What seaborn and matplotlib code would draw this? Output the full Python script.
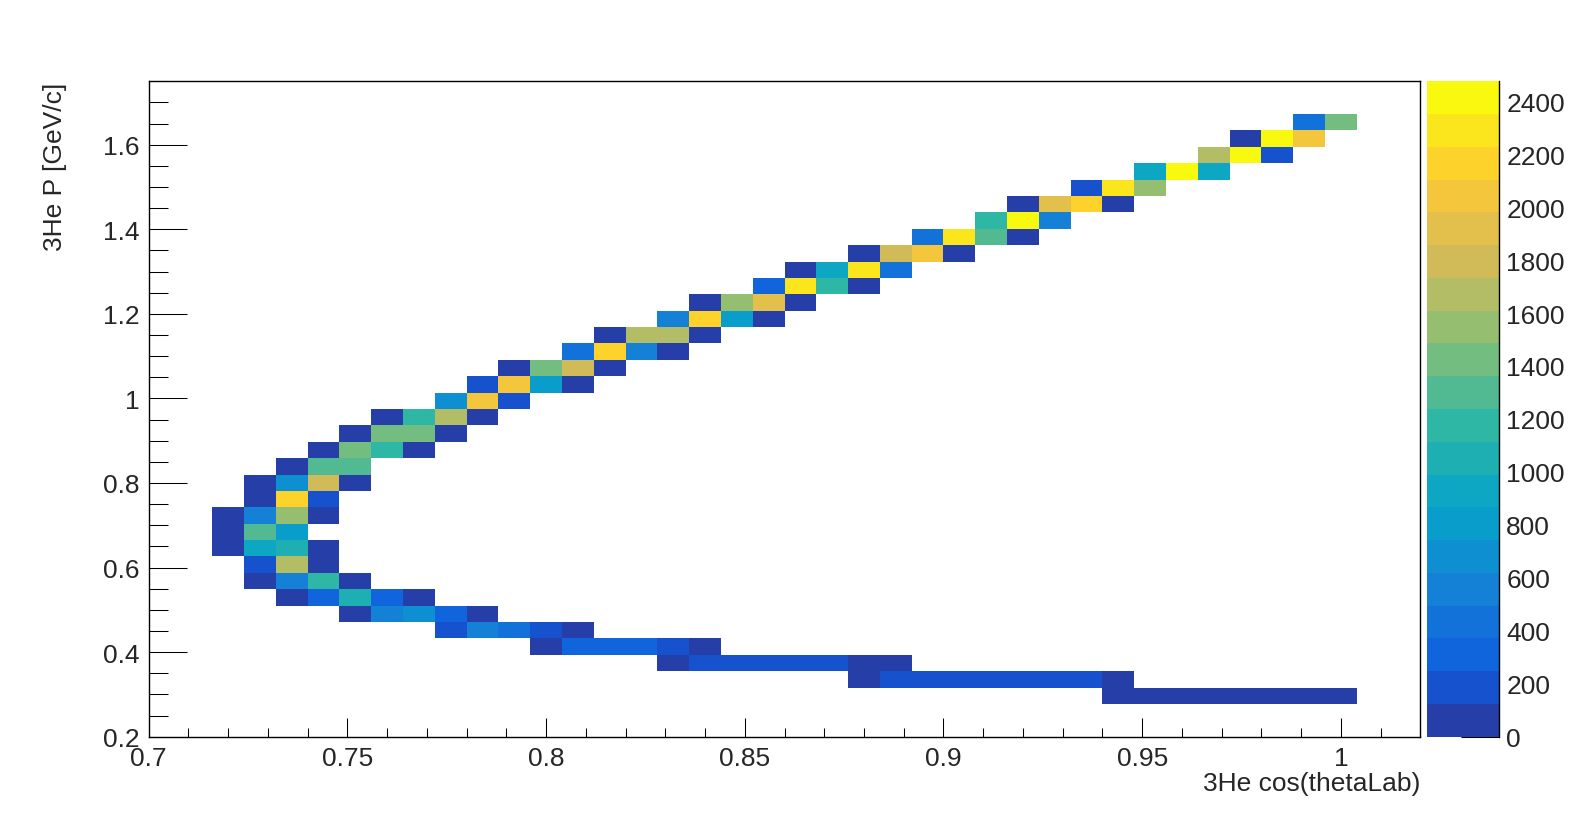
import numpy as np
import pandas as pd
import matplotlib
matplotlib.use("Agg")
import matplotlib.pyplot as plt
from matplotlib.colors import ListedColormap
from matplotlib.ticker import MultipleLocator, FuncFormatter
import seaborn as sns

# binning of the 2D histogram (40 x 40 bins)
cos_lo, cos_hi, n_cos = 0.70, 1.02, 40
p_lo, p_hi, n_p = 0.20, 1.75, 40
zmax = 2475

# filled bins, one entry per P row: row index, first cos bin, bin contents
row_index = [2, 3, 4, 5, 6, 7, 8, 9, 10, 11, 12, 13, 14, 15, 16, 17, 18, 19,
             20, 21, 22, 23, 24, 25, 26, 27, 28, 29, 30, 31, 32, 33, 34, 35, 36, 37]
first_bin = [30, 22, 16, 12, 9, 6, 4, 3, 3, 2, 2, 2, 3, 3, 4, 5, 6, 7,
             9, 10, 11, 13, 14, 16, 17, 19, 20, 22, 24, 26, 27, 29, 31, 33, 34, 36]
row_counts = [
    [60, 60, 60, 60, 60, 60, 60, 60],
    [60, 190, 190, 190, 190, 190, 190, 190, 60],
    [60, 190, 190, 190, 190, 190, 60, 60],
    [60, 310, 310, 310, 190, 60],
    [190, 560, 430, 190, 60],
    [60, 560, 680, 310, 60],
    [60, 310, 1050, 310, 60],
    [60, 560, 1180, 60],
    [190, 1670, 60],
    [60, 930, 1050, 60],
    [60, 1300, 800],
    [60, 560, 1550, 60],
    [60, 2170, 190],
    [60, 680, 1790, 60],
    [60, 1300, 1300],
    [60, 1420, 1180, 60],
    [60, 1420, 1420, 60],
    [60, 1180, 1670, 60],
    [680, 2040, 190],
    [190, 2040, 800, 60],
    [60, 1420, 1790, 60],
    [430, 2170, 560, 60],
    [60, 1670, 1670, 60],
    [560, 2170, 800, 60],
    [60, 1550, 1920, 60],
    [310, 2290, 1180, 60],
    [60, 930, 2290, 430],
    [60, 1790, 2040, 60],
    [430, 2290, 1300, 60],
    [1180, 2420, 560],
    [60, 1920, 2170, 60],
    [190, 2290, 1550],
    [930, 2420, 930],
    [1670, 2420, 190],
    [60, 2420, 2040],
    [430, 1420],
]

cos_w = (cos_hi - cos_lo) / n_cos
p_w = (p_hi - p_lo) / n_p
recs = []
for k, j0, counts in zip(row_index, first_bin, row_counts):
    for i, c in enumerate(counts):
        recs.append((cos_lo + (j0 + i + 0.5) * cos_w, p_lo + (k + 0.5) * p_w, c))
df = pd.DataFrame(recs, columns=["cos", "p", "n"])

# ROOT kBird palette, 255 colours, 20 contour levels
stops = [0.0, 0.125, 0.25, 0.375, 0.5, 0.625, 0.75, 0.875, 1.0]
red = [0.2082, 0.0592, 0.0780, 0.0232, 0.1802, 0.5301, 0.8186, 0.9956, 0.9764]
green = [0.1664, 0.3599, 0.5041, 0.6419, 0.7178, 0.7492, 0.7328, 0.7862, 0.9832]
blue = [0.5293, 0.8684, 0.8385, 0.7914, 0.6425, 0.4662, 0.3499, 0.1968, 0.0539]
grad = []
for g in range(1, len(stops)):
    n = int(np.floor(255 * stops[g]) - np.floor(255 * stops[g - 1]))
    for c in range(n):
        grad.append((red[g - 1] + c * (red[g] - red[g - 1]) / n,
                     green[g - 1] + c * (green[g] - green[g - 1]) / n,
                     blue[g - 1] + c * (blue[g] - blue[g - 1]) / n))
n_levels = 20
cmap = ListedColormap([grad[int((i + 0.99) * len(grad) / n_levels)] for i in range(n_levels)])

sns.set_style("ticks")
plt.rcParams["font.family"] = ["Liberation Sans", "DejaVu Sans"]

W, H = 1589, 820
L, R, T, B = 148.7, 1420.3, 82.3, 737.7
fig = plt.figure(figsize=(W / 100, H / 100), dpi=100)
ax = fig.add_axes([L / W, 1 - B / H, (R - L) / W, (B - T) / H])
cax = fig.add_axes([1427 / W, 1 - B / H, (1499.3 - 1427) / W, (B - T) / H])

sns.histplot(data=df, x="cos", y="p", weights="n", bins=(n_cos, n_p),
             binrange=((cos_lo, cos_hi), (p_lo, p_hi)), cmap=cmap, vmax=zmax,
             cbar=True, cbar_ax=cax, ax=ax)

ax.set_xlim(cos_lo, cos_hi)
ax.set_ylim(p_lo, p_hi)
ax.xaxis.set_major_locator(MultipleLocator(0.05))
ax.xaxis.set_minor_locator(MultipleLocator(0.01))
ax.yaxis.set_major_locator(MultipleLocator(0.2))
ax.yaxis.set_minor_locator(MultipleLocator(0.05))
fmt = FuncFormatter(lambda v, pos: f"{v:g}")
ax.xaxis.set_major_formatter(fmt)
ax.yaxis.set_major_formatter(fmt)
ax.tick_params(axis="both", which="both", direction="in", top=False, right=False,
               width=0.75, color="black", labelsize=19)
ax.tick_params(axis="x", which="major", length=13.7, pad=7)
ax.tick_params(axis="x", which="minor", length=6.8)
ax.tick_params(axis="y", which="major", length=27.4, pad=6.5)
ax.tick_params(axis="y", which="minor", length=13.7)
for s in ax.spines.values():
    s.set_linewidth(1.0)
    s.set_color("black")
ax.grid(False)

ax.set_xlabel("3He cos(thetaLab)", fontsize=19, loc="right")
ax.xaxis.set_label_coords(1.0, -0.052)
ax.set_ylabel("3He P [GeV/c]", fontsize=19, loc="top")
ax.yaxis.set_label_coords(-0.0639, 1.0)

# palette axis in ROOT style
cb = ax.collections[0].colorbar
cb.outline.set_visible(False)
cax.spines["right"].set_visible(True)
cax.spines["right"].set_linewidth(1.0)
cax.spines["right"].set_color("black")
cax.yaxis.set_major_locator(MultipleLocator(200))
cax.minorticks_off()
cax.tick_params(axis="y", direction="in", length=27.4, width=0.75, color="black",
                pad=5, labelsize=19, right=True, left=False)

fig.savefig("out.png", dpi=100)
